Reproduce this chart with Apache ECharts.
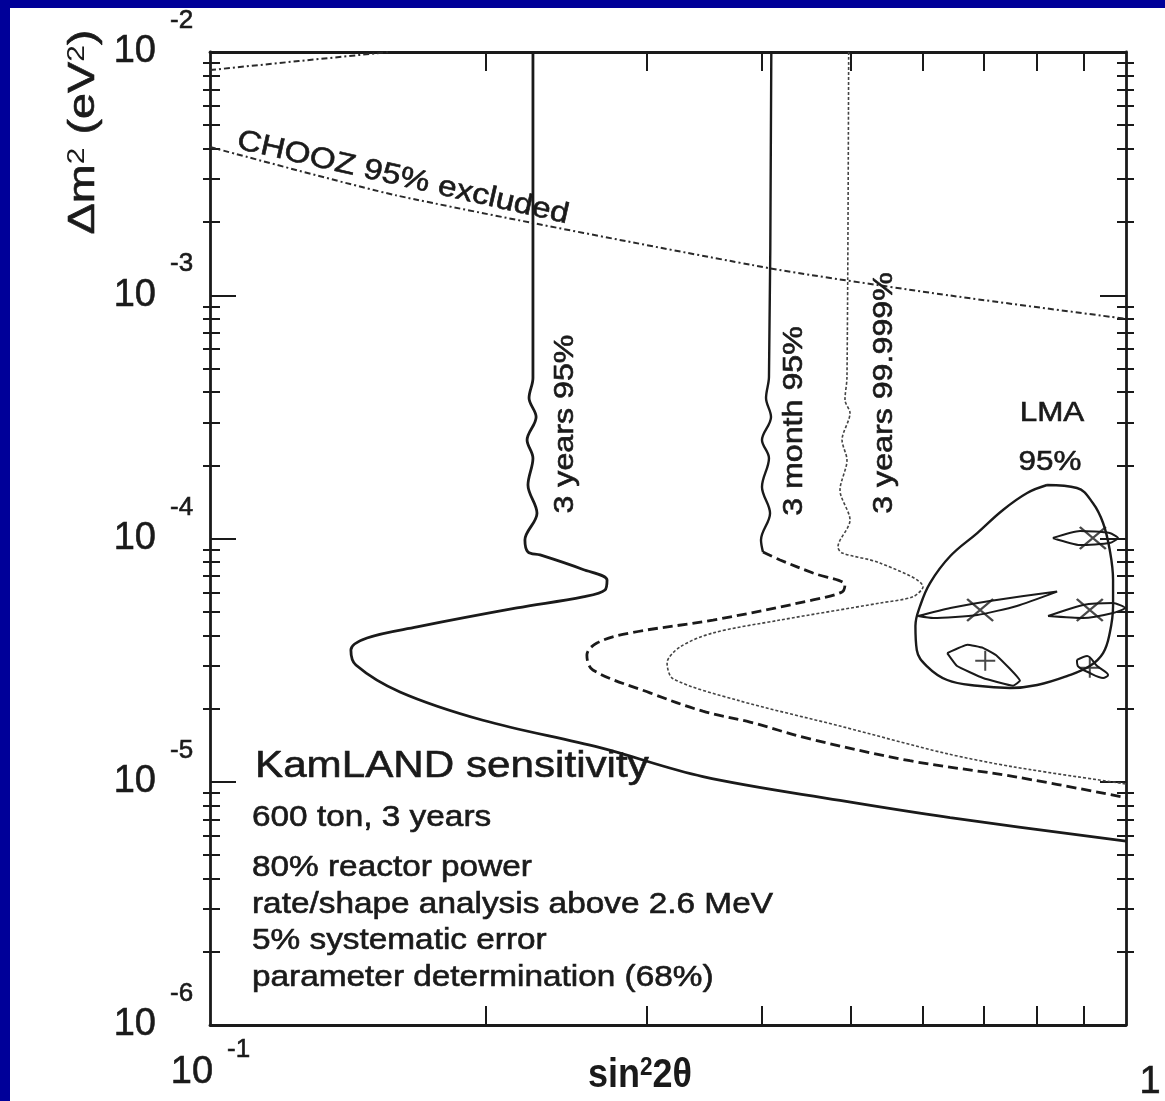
<!DOCTYPE html>
<html>
<head>
<meta charset="utf-8">
<script src="https://cdn.jsdelivr.net/npm/echarts@6/dist/echarts.min.js"></script>
<style>
html, body { margin: 0; padding: 0; background: #fff; overflow: hidden; }
#main { width: 1165px; height: 1101px; }
</style>
</head>
<body>
<div id="main"></div>
<script>
var FONT = '"Liberation Sans", Arial, Helvetica, sans-serif'
var INK = '#1a1a1a'

// ticks and tick labels
var xMinorTicks = [0.2, 0.3, 0.4, 0.5, 0.6, 0.7, 0.8, 0.9]
var yMajorTicks = [1e-5, 1e-4, 1e-3]
var yMinorTicks = [2e-6, 3e-6, 4e-6, 5e-6, 6e-6, 7e-6, 8e-6, 9e-6,
	2e-5, 3e-5, 4e-5, 5e-5, 6e-5, 7e-5, 8e-5, 9e-5,
	2e-4, 3e-4, 4e-4, 5e-4, 6e-4, 7e-4, 8e-4, 9e-4,
	2e-3, 3e-3, 4e-3, 5e-3, 6e-3, 7e-3, 8e-3, 9e-3]
var yLabelValues = [1e-2, 1e-3, 1e-4, 1e-5, 1e-6]
var yLabelExps = ['-2', '-3', '-4', '-5', '-6']

// CHOOZ 95% excluded (two pieces of the same contour)
var choozTopX = [0.1, 0.125, 0.157]
var choozTopY = [8.43e-3, 9.18e-3, 1.0e-2]
var choozX = [0.1, 0.16, 0.409, 0.643, 1.0]
var choozY = [4.07e-3, 2.57e-3, 1.29e-3, 9.97e-4, 8.0e-4]

// 3 years 95%
var yr3X = [0.2252, 0.2252, 0.2230, 0.2270, 0.2219, 0.2252, 0.2224, 0.2275, 0.2207, 0.2224, 0.2293, 0.2554, 0.2713, 0.2699, 0.2554, 0.2163, 0.1683, 0.1484, 0.1425, 0.1443, 0.1612, 0.1986, 0.2666, 0.3452, 0.4873, 0.6426, 1.0]
var yr3Y = [1.0e-2, 4.57e-4, 3.78e-4, 3.16e-4, 2.54e-4, 2.14e-4, 1.66e-4, 1.27e-4, 9.86e-5, 8.80e-5, 8.56e-5, 7.46e-5, 6.75e-5, 6.14e-5, 5.75e-5, 5.18e-5, 4.33e-5, 3.90e-5, 3.48e-5, 3.02e-5, 2.34e-5, 1.79e-5, 1.38e-5, 1.05e-5, 8.38e-6, 7.12e-6, 5.7e-6]

// 3 month 95% (solid top, dashed below)
var m3TopX = [0.410, 0.4076, 0.4046, 0.4097, 0.4005, 0.4076, 0.4005, 0.4087, 0.3995, 0.4015]
var m3TopY = [1.0e-2, 4.61e-4, 3.78e-4, 3.16e-4, 2.54e-4, 2.14e-4, 1.63e-4, 1.27e-4, 9.86e-5, 8.80e-5]
var m3X = [0.4015, 0.4191, 0.4553, 0.4934, 0.4898, 0.4553, 0.3541, 0.2874, 0.2645, 0.2579, 0.2618, 0.3022, 0.3452, 0.3886, 0.4485, 0.5810, 0.7547, 1.0]
var m3Y = [8.80e-5, 8.16e-5, 7.21e-5, 6.44e-5, 6.03e-5, 5.59e-5, 4.62e-5, 4.09e-5, 3.72e-5, 3.32e-5, 2.88e-5, 2.32e-5, 1.95e-5, 1.76e-5, 1.51e-5, 1.22e-5, 1.05e-5, 8.6e-6]

// 3 years 99.999%
var y99X = [0.498, 0.4959, 0.4934, 0.4997, 0.4898, 0.4959, 0.4873, 0.4997, 0.4848, 0.4898, 0.5388, 0.6003, 0.5854, 0.5388, 0.4191, 0.3541, 0.3259, 0.3155, 0.3203, 0.3771, 0.4886, 0.6345, 0.7547, 1.0]
var y99Y = [1.0e-2, 4.61e-4, 3.71e-4, 3.28e-4, 2.54e-4, 2.10e-4, 1.58e-4, 1.19e-4, 9.23e-5, 8.72e-5, 7.93e-5, 6.32e-5, 5.76e-5, 5.43e-5, 4.62e-5, 4.09e-5, 3.58e-5, 3.08e-5, 2.65e-5, 2.16e-5, 1.69e-5, 1.31e-5, 1.15e-5, 9.8e-6]

// LMA 95% region
var lmaX = [0.820, 0.884, 0.920, 0.944, 0.960, 0.968, 0.968, 0.960, 0.944, 0.913, 0.862, 0.800, 0.747, 0.688, 0.638, 0.606, 0.591, 0.589, 0.596, 0.611, 0.643, 0.688, 0.734, 0.780, 0.820]
var lmaY = [1.659e-4, 1.613e-4, 1.399e-4, 1.158e-4, 8.97e-5, 6.75e-5, 5.28e-5, 4.09e-5, 3.38e-5, 2.99e-5, 2.72e-5, 2.50e-5, 2.43e-5, 2.48e-5, 2.62e-5, 2.99e-5, 3.48e-5, 4.37e-5, 5.28e-5, 6.56e-5, 8.47e-5, 1.053e-4, 1.310e-4, 1.538e-4, 1.659e-4]

// parameter determination (68%) contours
var pdAX = [0.832, 0.891, 0.960, 0.980, 0.960, 0.891, 0.832]
var pdAY = [1.005e-4, 1.074e-4, 1.053e-4, 1.005e-4, 9.58e-5, 9.40e-5, 1.005e-4]
var pdBX = [0.593, 0.643, 0.710, 0.841, 0.760, 0.688, 0.616, 0.593]
var pdBY = [4.80e-5, 5.18e-5, 5.54e-5, 6.05e-5, 5.28e-5, 4.85e-5, 4.71e-5, 4.80e-5]
var pdCX = [0.822, 0.898, 0.968, 0.998, 0.968, 0.898, 0.822]
var pdCY = [4.80e-5, 5.33e-5, 5.43e-5, 5.18e-5, 4.94e-5, 4.71e-5, 4.80e-5]
var pdDX = [0.638, 0.671, 0.698, 0.723, 0.766, 0.753, 0.698, 0.654, 0.638]
var pdDY = [3.38e-5, 3.66e-5, 3.55e-5, 3.29e-5, 2.60e-5, 2.48e-5, 2.67e-5, 2.99e-5, 3.38e-5]
var pdEX = [0.884, 0.907, 0.930, 0.956, 0.944, 0.913, 0.886, 0.884]
var pdEY = [3.17e-5, 3.29e-5, 2.99e-5, 2.75e-5, 2.67e-5, 2.80e-5, 2.99e-5, 3.17e-5]

// best fit marks
var crossX = [0.920, 0.693, 0.913]
var crossY = [1.005e-4, 5.08e-5, 5.08e-5]
var plusX = [0.702, 0.913]
var plusY = [3.14e-5, 2.94e-5]

function pairs(xs, ys) {
	return xs.map(function (x, i) { return [x, ys[i]] })
}
function curve(xs, ys, style, smooth) {
	return {
		type: 'line', data: pairs(xs, ys), symbol: 'none', smooth: smooth || 0,
		lineStyle: style, silent: true, z: 3
	}
}

function xAx(pos) {
	return {
		type: 'log', logBase: 10, min: 0.1, max: 1, position: pos,
		axisLine: { show: true, onZero: false, lineStyle: { color: INK, width: 2.8 } },
		axisTick: { show: true, inside: true, length: 19, customValues: xMinorTicks, lineStyle: { color: INK, width: 2 } },
		axisLabel: { show: false }, splitLine: { show: false }, minorTick: { show: false }
	}
}
function yAx(pos, line, ticks, inside, len) {
	return {
		type: 'log', logBase: 10, min: 1e-6, max: 1e-2, position: pos,
		axisLine: { show: line, onZero: false, lineStyle: { color: INK, width: 2.8 } },
		axisTick: { show: true, inside: inside, length: len, customValues: ticks, lineStyle: { color: INK, width: 2 } },
		axisLabel: { show: false }, splitLine: { show: false }, minorTick: { show: false }
	}
}

var option = {
	animation: false,
	backgroundColor: '#fff',
	grid: { left: 210, top: 52, width: 916, height: 973, containLabel: false },
	xAxis: [xAx('bottom'), xAx('top')],
	yAxis: [
		yAx('left', true, yMajorTicks, true, 26),
		yAx('left', false, yMinorTicks, true, 10),
		yAx('left', false, yMinorTicks, false, 7),
		yAx('right', true, yMajorTicks, true, 26),
		yAx('right', false, yMinorTicks, true, 9),
		yAx('right', false, yMinorTicks, false, 8)
	],
	series: [
		curve(choozTopX, choozTopY, { color: '#2a2a2a', width: 2, type: [6, 3, 2, 3] }),
		curve(choozX, choozY, { color: '#2a2a2a', width: 2, type: [6, 3, 2, 3] }, 0.2),
		curve(yr3X, yr3Y, { color: INK, width: 2.8 }, 0.35),
		curve(m3TopX, m3TopY, { color: INK, width: 2.4 }, 0.35),
		curve(m3X, m3Y, { color: INK, width: 2.8, type: [10, 5] }, 0.35),
		curve(y99X, y99Y, { color: '#444', width: 1.6, type: [3, 2] }, 0.3),
		curve(lmaX, lmaY, { color: INK, width: 2.4 }, 0.4),
		curve(pdAX, pdAY, { color: INK, width: 2 }, 0.2),
		curve(pdBX, pdBY, { color: INK, width: 2 }, 0.2),
		curve(pdCX, pdCY, { color: INK, width: 2 }, 0.2),
		curve(pdDX, pdDY, { color: INK, width: 2 }, 0.1),
		curve(pdEX, pdEY, { color: INK, width: 2 }, 0.3),
		{
			type: 'scatter', data: pairs(crossX, crossY), symbol: 'path://M0,0L10,10M10,0L0,10',
			symbolSize: [26, 22], silent: true, z: 4,
			itemStyle: { color: 'transparent', borderColor: INK, borderWidth: 2.2 }
		},
		{
			type: 'scatter', data: pairs(plusX, plusY), symbol: 'path://M5,0L5,10M0,5L10,5',
			symbolSize: [20, 20], silent: true, z: 4,
			itemStyle: { color: 'transparent', borderColor: INK, borderWidth: 2 }
		}
	]
}

var chart = echarts.init(document.getElementById('main'), null, { renderer: 'canvas' })
chart.setOption(option)

function pt(x, y) {
	return chart.convertToPixel({ xAxisIndex: 0, yAxisIndex: 0 }, [x, y])
}
function txt(s, x, y, size, align, opt) {
	opt = opt || {}
	return {
		type: 'text', x: x, y: y, rotation: opt.rot || 0, scaleX: opt.sx || 1, z: 50,
		style: {
			text: s, fill: INK, fontSize: size, fontFamily: FONT,
			fontWeight: opt.bold ? 'bold' : 'normal',
			stroke: INK, lineWidth: opt.lw == null ? 0.6 : opt.lw,
			align: align, verticalAlign: 'middle', rich: opt.rich
		}
	}
}

var g = []
// tick labels
yLabelValues.forEach(function (v, i) {
	var p = pt(0.1, v)
	g.push(txt('10', p[0] - 54, p[1], 38, 'right'))
	g.push(txt(yLabelExps[i], p[0] - 40, p[1] - 31, 26, 'left'))
})
var p01 = pt(0.1, 1e-6), p1 = pt(1, 1e-6)
g.push(txt('10', p01[0] - 18, p01[1] + 48, 38, 'center'))
g.push(txt('-1', p01[0] + 17, p01[1] + 25, 26, 'left'))
g.push(txt('1', p1[0] + 24, p1[1] + 58, 38, 'center'))

// axis titles
g.push(txt('{a|sin}{s|2}{a|2θ}', 640, 1076, 40, 'center', {
	sx: 0.9, lw: 0,
	rich: {
		a: { fontSize: 40, fontWeight: 'bold', fontFamily: FONT, fill: INK, verticalAlign: 'bottom' },
		s: { fontSize: 25, fontWeight: 'bold', fontFamily: FONT, fill: INK, verticalAlign: 'top' }
	}
}))
g.push(txt('{a|Δm}{s|2}{a| (eV}{s|2}{a|)}', 84, 132, 36, 'center', {
	rot: Math.PI / 2, sx: 1.3, lw: 0,
	rich: {
		a: { fontSize: 36, fontFamily: FONT, fill: INK, verticalAlign: 'bottom', textStroke: INK, textStrokeWidth: 0.6 },
		s: { fontSize: 23, fontFamily: FONT, fill: INK, verticalAlign: 'top' }
	}
}))

// annotations in the plot
g.push(txt('CHOOZ 95% excluded', 403, 178, 29, 'center', { rot: -0.223, sx: 1.15 }))
g.push(txt('3 years 95%', 565, 424, 28, 'center', { rot: Math.PI / 2, sx: 1.15 }))
g.push(txt('3 month 95%', 794, 421, 28, 'center', { rot: Math.PI / 2, sx: 1.15 }))
g.push(txt('3 years 99.999%', 884, 393, 28, 'center', { rot: Math.PI / 2, sx: 1.15 }))
g.push(txt('LMA', 1052, 413, 28, 'center', { sx: 1.12 }))
g.push(txt('95%', 1050, 462, 28, 'center', { sx: 1.12 }))

g.push(txt('KamLAND sensitivity', 255, 767, 37, 'left', { sx: 1.14 }))
g.push(txt('600 ton, 3 years', 252, 818, 29, 'left', { sx: 1.15 }))
g.push(txt('80% reactor power', 252, 868, 29, 'left', { sx: 1.15 }))
g.push(txt('rate/shape analysis above 2.6 MeV', 252, 905, 29, 'left', { sx: 1.15 }))
g.push(txt('5% systematic error', 252, 941, 29, 'left', { sx: 1.15 }))
g.push(txt('parameter determination (68%)', 252, 978, 29, 'left', { sx: 1.15 }))

// slide frame
g.push({ type: 'rect', shape: { x: 0, y: 0, width: 1165, height: 8 }, style: { fill: '#000099' }, z: 100 })
g.push({ type: 'rect', shape: { x: 0, y: 0, width: 10, height: 1101 }, style: { fill: '#000099' }, z: 100 })

chart.setOption({ graphic: g })
</script>
</body>
</html>
